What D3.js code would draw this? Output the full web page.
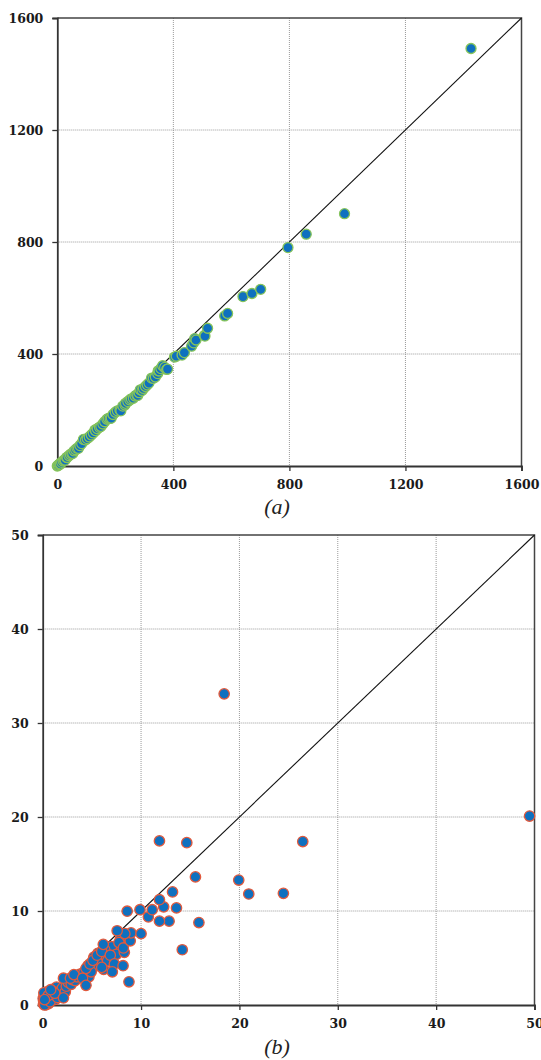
<!DOCTYPE html>
<html>
<head>
<meta charset="utf-8">
<script src="https://cdn.jsdelivr.net/npm/d3@7"></script>
<style>
body{margin:0;background:#fff;}
.tick text{font-family:"DejaVu Serif",serif;font-weight:bold;font-size:12.5px;fill:#1a1a1a;}
.grid line{stroke:#9a9a9a;stroke-width:1;stroke-dasharray:1,1;}
.cap{font-family:"Liberation Serif","DejaVu Serif",serif;font-style:italic;font-size:22px;fill:#222;}
</style>
</head>
<body>
<script>
// chart (a)
var topTicks=[0,400,800,1200,1600];
var topX=[0,3,6,9,11,15,20,24,27,32,34,40,45,50,53,58,63,68,73,78,84,90,97,103,110,117,124,130,132,138,145,150,157,163,171,176,182,186,192,200,207,216,219,226,233,235,243,250,255,262,268,274,277,282,286,292,297,304,310,316,325,331,338,346,348,351,357,363,370,377,380,404,410,430,438,463,470,474,478,507,509,518,577,587,640,671,701,795,858,990,1426];
var topY=[0,2,5,8,7,13,18,21,21,30,31,37,41,45,45,54,58,63,63,73,80,95,93,98,104,111,118,129,126,133,138,141,150,158,167,170,170,171,184,192,197,200,197,214,218,224,230,236,240,242,250,254,252,262,272,270,277,284,290,296,314,313,318,330,340,340,348,358,352,345,346,389,392,396,405,428,440,455,450,466,464,492,536,545,605,616,631,780,828,901,1491];

// chart (b)
var botTicks=[0,10,20,30,40,50];
var botX=[0.08,0.1,0.25,0.35,0.05,0.5,0.3,0.15,0.6,0.6,0.7,0.4,0.9,1.0,1.3,1.1,1.4,1.6,1.7,1.8,2.0,2.3,2.4,2.6,2.9,3.0,3.3,3.5,3.8,4.2,4.7,5.0,5.5,4.6,5.2,5.6,5.8,6.5,6.2,6.6,7.3,7.0,7.5,7.9,6.3,8.3,8.5,
  0.2,0.45,0.75,1.2,1.5,0.95,0.12,0.55,
  0.18,1.23,0.81,2.11,2.11,2.82,3.17,4.05,4.4,6.0,4.93,4.4,4.8,5.1,5.53,6.0,7.75,6.16,6.87,7.29,7.08,8.17,8.2,8.9,8.98,8.35,7.57,8.77,14.19,10.0,8.59,9.89,15.88,12.85,11.87,10.74,11.13,13.6,12.3,11.87,13.2,24.47,20.95,19.93,15.53,26.44,14.65,11.87,49.5,18.45];
var botY=[0.1,0.4,0.2,0.05,0.7,0.3,0.9,1.1,0.8,0.15,1.2,1.4,0.5,0.9,0.6,1.7,1.9,1.3,1.0,1.5,1.8,1.4,2.0,2.4,2.2,2.7,2.6,3.0,3.3,3.5,3.0,4.0,4.2,4.2,5.1,5.5,4.8,5.0,3.8,4.7,5.8,6.2,5.4,7.0,5.9,5.6,7.4,
  0.0,0.6,0.35,1.1,0.8,1.5,1.3,1.0,
  0.57,1.25,1.63,0.76,2.85,2.85,3.23,2.85,2.09,4.0,3.53,3.9,4.37,4.75,5.3,5.7,6.64,6.45,5.3,4.37,3.53,4.18,6.07,6.83,7.67,7.59,7.9,2.47,5.88,7.59,9.98,10.14,8.77,8.92,8.92,9.38,10.14,10.33,10.44,11.2,12.03,11.88,11.81,13.29,13.63,17.39,17.27,17.46,20.1,33.1];

var svg=d3.select("body").append("svg")
  .attr("width",541).attr("height",1060);

function drawChart(opt){
  var x=d3.scaleLinear().domain([0,opt.max]).range([opt.left,opt.right]);
  var y=d3.scaleLinear().domain([0,opt.max]).range([opt.bottom,opt.top]);
  var g=svg.append("g");

  //grid
  var grid=g.append("g").attr("class","grid");
  grid.selectAll("line.v").data(opt.ticks.slice(1,-1)).enter().append("line")
    .attr("x1",function(d){return x(d);}).attr("x2",function(d){return x(d);})
    .attr("y1",opt.top).attr("y2",opt.bottom);
  grid.selectAll("line.h").data(opt.ticks.slice(1,-1)).enter().append("line")
    .attr("class","h")
    .attr("y1",function(d){return y(d);}).attr("y2",function(d){return y(d);})
    .attr("x1",opt.left).attr("x2",opt.right);

  //frame top/right
  g.append("path")
    .attr("d","M"+opt.left+","+opt.top+"H"+opt.right+"V"+opt.bottom)
    .attr("fill","none").attr("stroke","#444").attr("stroke-width",1.5);

  //axes
  var xa=g.append("g").attr("transform","translate(0,"+opt.bottom+")")
    .call(d3.axisBottom(x).tickValues(opt.ticks).tickSize(5).tickPadding(9).tickFormat(d3.format("d")));
  var ya=g.append("g").attr("transform","translate("+opt.left+",0)")
    .call(d3.axisLeft(y).tickValues(opt.ticks).tickSize(5).tickPadding(9).tickFormat(d3.format("d")));
  [xa,ya].forEach(function(a){
    a.select(".domain").attr("stroke","#333").attr("stroke-width",1.8);
    a.selectAll(".tick line").attr("stroke","#333").attr("stroke-width",1.3);
  });

  //1:1 line
  g.append("line")
    .attr("x1",x(0)).attr("y1",y(0)).attr("x2",x(opt.max)).attr("y2",y(opt.max))
    .attr("stroke","#111").attr("stroke-width",1.1);

  //points
  var pts=opt.xs.map(function(v,i){return {x:v,y:opt.ys[i]};});
  g.selectAll("circle").data(pts).enter().append("circle")
    .attr("cx",function(d){return x(d.x);})
    .attr("cy",function(d){return y(d.y);})
    .attr("r",opt.r)
    .attr("fill","#0f70bf")
    .attr("stroke",opt.edge)
    .attr("stroke-width",1.3);

  g.append("text").attr("class","cap")
    .attr("x",277).attr("y",opt.capY).attr("text-anchor","middle")
    .text(opt.cap);
}

drawChart({max:1600,ticks:topTicks,xs:topX,ys:topY,left:57.3,right:521.5,top:18,bottom:466,
  r:5,edge:"#86c45a",cap:"(a)",capY:514});
drawChart({max:50,ticks:botTicks,xs:botX,ys:botY,left:42.7,right:534.5,top:535,bottom:1005,
  r:5.2,edge:"#e2593c",cap:"(b)",capY:1054});
</script>
</body>
</html>
